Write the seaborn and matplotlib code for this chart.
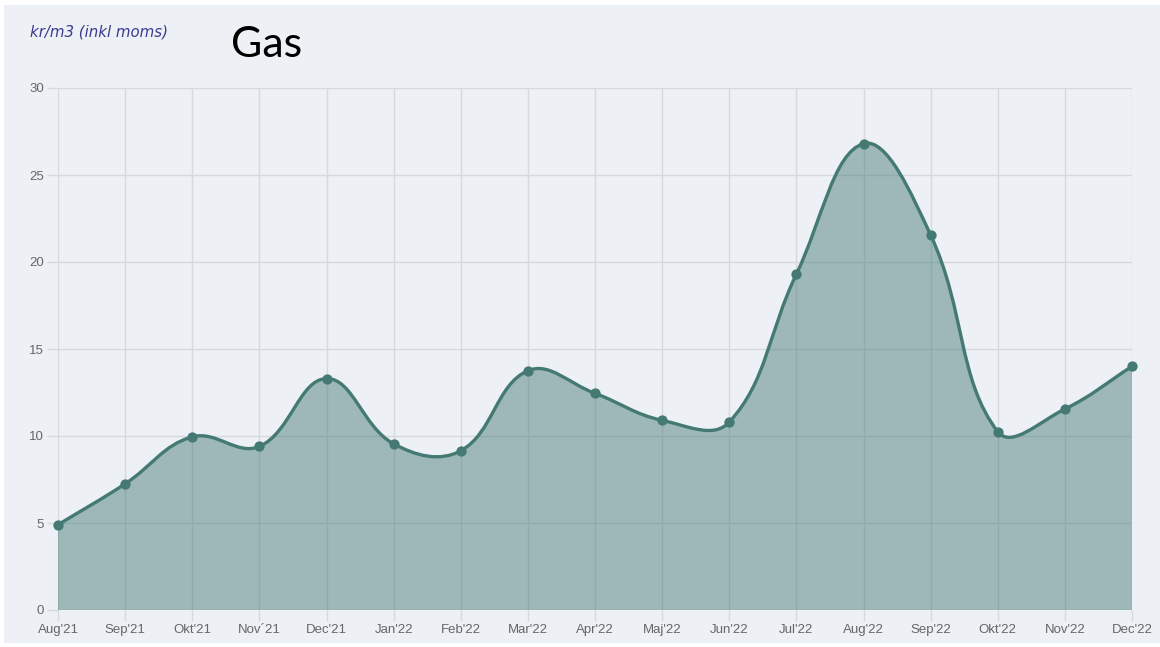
import numpy as np
import pandas as pd
import matplotlib
matplotlib.use("Agg")
import matplotlib.pyplot as plt
from matplotlib.path import Path
from matplotlib.patches import PathPatch, Rectangle
import seaborn as sns

# values (kr/m3 incl. moms)
months = ["Aug'21", "Sep'21", "Okt'21", "Nov´21", "Dec'21", "Jan'22", "Feb'22", "Mar'22",
          "Apr'22", "Maj'22", "Jun'22", "Jul'22", "Aug'22", "Sep'22", "Okt'22", "Nov'22", "Dec'22"]
prices = [4.9, 7.25, 9.95, 9.4, 13.3, 9.55, 9.15, 13.75,
          12.45, 10.9, 10.8, 19.3, 26.8, 21.55, 10.25, 11.55, 14.0]
y_ticks = [0, 5, 10, 15, 20, 25, 30]

LINE = "#447a73"
BG = "#edf0f5"
GRID = "#d5d8dd"
TICK_TXT = "#666666"

df = pd.DataFrame({"month": months, "price": prices})
df["x"] = np.arange(len(df))

sns.set_theme(style="white")
plt.rcParams["font.family"] = ["Liberation Sans", "DejaVu Sans"]

fig = plt.figure(figsize=(11.6, 6.47), dpi=100)
fig.patch.set_facecolor("white")
# grey panel behind everything (white margin on left/top/bottom)
fig.patches.append(Rectangle((4 / 1160, 4 / 647), 1 - 4 / 1160, 1 - 9 / 647,
                             transform=fig.transFigure, facecolor=BG, edgecolor="none", zorder=-10))

ax = fig.add_axes([58 / 1160, 1 - 610 / 647, (1132 - 58) / 1160, (610 - 88) / 647])
ax.set_facecolor(BG)
ax.set_xlim(0, len(df) - 1)
ax.set_ylim(0, 30)
ax.set_yticks(y_ticks)
ax.set_xticks(df["x"])
ax.set_xticklabels(df["month"])
for s in ax.spines.values():
    s.set_visible(False)
ax.grid(True, color=GRID, linewidth=1, zorder=0)
ax.set_axisbelow(True)
ax.tick_params(axis="both", length=8, width=1, color=GRID, labelsize=9.5,
               labelcolor=TICK_TXT, pad=2, left=True, bottom=True)

# Chart.js style cubic spline (tension 0.4) computed in pixel space
fig.canvas.draw()
pts = ax.transData.transform(np.column_stack([df["x"], df["price"]]))
t = 0.4
n = len(pts)
cp_prev = np.zeros_like(pts)
cp_next = np.zeros_like(pts)
for i in range(n):
    p0 = pts[i - 1] if i > 0 else pts[i]
    p1 = pts[i]
    p2 = pts[i + 1] if i < n - 1 else pts[i]
    d01 = np.hypot(*(p1 - p0))
    d12 = np.hypot(*(p2 - p1))
    tot = d01 + d12
    s01 = d01 / tot if tot else 0
    s12 = d12 / tot if tot else 0
    cp_prev[i] = p1 - t * s01 * (p2 - p0)
    cp_next[i] = p1 + t * s12 * (p2 - p0)

inv = ax.transData.inverted()
verts = [tuple(inv.transform(pts[0]))]
codes = [Path.MOVETO]
for i in range(n - 1):
    verts += [tuple(inv.transform(cp_next[i])), tuple(inv.transform(cp_prev[i + 1])),
              tuple(inv.transform(pts[i + 1]))]
    codes += [Path.CURVE4] * 3

line_path = Path(verts, codes)
fill_path = Path(verts + [(df["x"].iloc[-1], 0), (df["x"].iloc[0], 0), verts[0]],
                 codes + [Path.LINETO, Path.LINETO, Path.CLOSEPOLY])
ax.add_patch(PathPatch(fill_path, facecolor=LINE, alpha=0.47, edgecolor="none", zorder=2))
ax.add_patch(PathPatch(line_path, facecolor="none", edgecolor=LINE, linewidth=2.4, zorder=3))

sns.scatterplot(data=df, x="x", y="price", ax=ax, color=LINE, s=55, edgecolor=LINE,
                linewidth=0, zorder=4, clip_on=False)
ax.set_xlabel("")
ax.set_ylabel("")

fig.text(30 / 1160, 1 - 32 / 647, "kr/m3 (inkl moms)", fontsize=10.8, style="italic",
         color="#3b3b8f", family=["DejaVu Sans"], va="center", ha="left")
fig.text(231 / 1160, 1 - 57 / 647, "Gas", fontsize=31, color="black",
         family=["Lato", "DejaVu Sans"], va="baseline", ha="left")

fig.savefig("out.png", dpi=100, facecolor=fig.get_facecolor())
